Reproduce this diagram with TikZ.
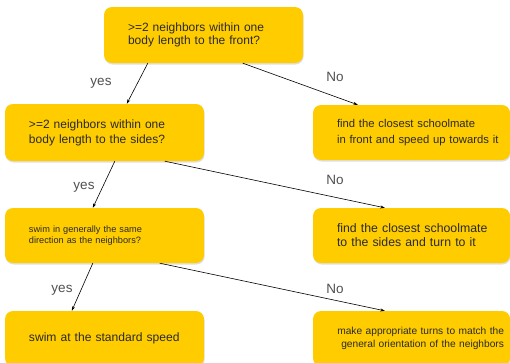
\documentclass[tikz,border=0pt]{standalone}
\usepackage{fontspec}
\setmainfont{Liberation Sans}
\usetikzlibrary{arrows.meta,shadows}
\definecolor{box-yellow}{HTML}{FFCC00}
\definecolor{box-text}{HTML}{2A2A2A}
\definecolor{label-grey}{HTML}{505050}

\begin{document}
\begin{tikzpicture}[x=1pt, y=-1pt,
    box/.style={fill=box-yellow, rounded corners=8pt, minimum height=55pt,
      inner xsep=4pt, inner ysep=0pt, align=left, text=box-text,
      execute at begin node={\leftskip=20pt},
      drop shadow={shadow xshift=0.6pt, shadow yshift=-1.5pt, opacity=0.25}},
    lbl/.style={text=label-grey, font=\fontsize{13.5}{15}\selectfont},
    link/.style={-{Stealth[length=4.5pt, width=3pt]}, line width=0.6pt}]
    \useasboundingbox (0,0) rectangle (510,362);
    \node[box, text width=191pt, minimum height=56pt,
      font=\fontsize{12}{13.5}\selectfont] (q1) at (203.5,35)
      {>=2 neighbors within one\\body length to the front?};
    \node[box, text width=191pt, minimum height=57pt,
      font=\fontsize{12}{15}\selectfont] (q2) at (104.5,132.5)
      {>=2 neighbors within one\\body length to the sides?};
    \node[box, text width=191pt,
      font=\fontsize{9.2}{10.5}\selectfont] (q3) at (104.5,235.5)
      {swim in generally the same\\direction as the neighbors?};
    \node[box, text width=189pt,
      font=\fontsize{11.3}{15.5}\selectfont] (a1) at (411.5,132.5)
      {find the closest schoolmate\\in front and speed up towards it};
    \node[box, text width=189pt,
      font=\fontsize{12.3}{14}\selectfont] (a2) at (411.5,235.5)
      {find the closest schoolmate\\to the sides and turn to it};
    \node[box, text width=191pt,
      font=\fontsize{12.1}{14}\selectfont] (a3) at (104.5,338.5)
      {swim at the standard speed};
    \node[box, text width=185pt, inner xsep=6pt, align=right,
      execute at begin node={\leftskip=0pt plus 1fil},
      font=\fontsize{10.2}{13}\selectfont] (a4) at (411.5,338.5)
      {make appropriate turns to match the\\general orientation of the neighbors};
    \draw[link] ([xshift=44pt]q1.south west) -- ([xshift=122pt]q2.north west);
    \draw[link] ([xshift=139pt]q1.south west) -- ([xshift=45pt]a1.north west);
    \draw[link] ([xshift=110pt]q2.south west) -- ([xshift=88pt]q3.north west);
    \draw[link] ([xshift=160pt]q2.south west) -- ([xshift=72pt]a2.north west);
    \draw[link] ([xshift=88pt]q3.south west) -- ([xshift=67pt]a3.north west);
    \draw[link] ([xshift=155pt]q3.south west) -- ([xshift=72pt]a4.north west);
    \node[lbl] (yes1) at (101,83) {yes};
    \node[lbl] (no1) at (335,77) {No};
    \node[lbl] (yes2) at (84,187) {yes};
    \node[lbl] (no2) at (335,180) {No};
    \node[lbl] (yes3) at (62,290) {yes};
    \node[lbl] (no3) at (335,289) {No};
  \end{tikzpicture}
\end{document}
